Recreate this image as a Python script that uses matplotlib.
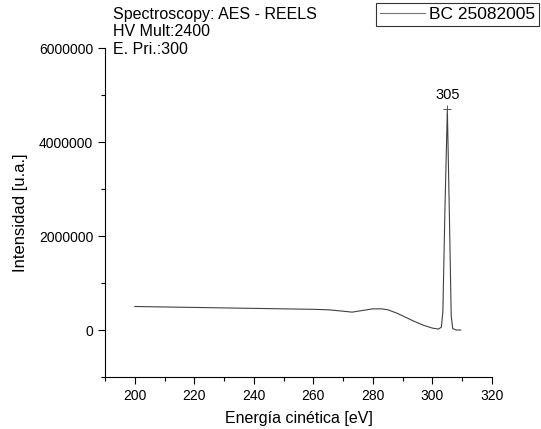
import matplotlib.pyplot as plt
from matplotlib.ticker import MultipleLocator, FuncFormatter

plt.rcParams['font.family'] = ['Liberation Sans', 'DejaVu Sans']

# spectrum
energy = [200, 210, 220, 230, 240, 250, 260, 265, 270, 273, 276, 280, 283, 285,
          288, 291, 294, 297, 300, 302, 303, 303.5, 304.2, 305, 305.7, 306.3,
          306.8, 308, 309.5]
intensity = [0.50e6, 0.49e6, 0.48e6, 0.47e6, 0.46e6, 0.45e6, 0.44e6, 0.43e6,
             0.40e6, 0.38e6, 0.41e6, 0.45e6, 0.45e6, 0.43e6, 0.36e6, 0.27e6,
             0.18e6, 0.10e6, 0.04e6, 0.02e6, 0.06e6, 0.4e6, 2.6e6, 4.7e6,
             2.4e6, 0.3e6, 0.03e6, 0.0, 0.0]
peak_x = 305
peak_y = 4.7e6
info_lines = ["Spectroscopy: AES - REELS", "HV Mult:2400", "E. Pri.:300"]
legend_label = "BC 25082005"

fig = plt.figure(figsize=(5.41, 4.29), dpi=100)
ax = fig.add_axes([105 / 541, 1 - 377 / 429, (492 - 105) / 541, (377 - 48) / 429])

line, = ax.plot(energy, intensity, color='#404040', linewidth=0.8)
ax.plot([peak_x], [peak_y], marker='+', color='#555555', markersize=6, mew=0.7)
ax.text(peak_x, peak_y + 0.15e6, str(peak_x), ha='center', va='bottom', fontsize=10.5)

ax.set_xlim(190, 320)
ax.set_ylim(-1e6, 6e6)
ax.xaxis.set_major_locator(MultipleLocator(20))
ax.xaxis.set_minor_locator(MultipleLocator(10))
ax.yaxis.set_major_locator(MultipleLocator(2e6))
ax.yaxis.set_minor_locator(MultipleLocator(1e6))
ax.yaxis.set_major_formatter(FuncFormatter(lambda v, p: f"{int(round(v))}"))
ax.xaxis.set_major_formatter(FuncFormatter(lambda v, p: "" if v < 200 else f"{int(v)}"))

ax.spines['top'].set_visible(False)
ax.spines['right'].set_visible(False)
ax.tick_params(which='both', direction='out', labelsize=10, width=0.8)
ax.tick_params(which='major', length=5)
ax.tick_params(which='minor', length=3)

ax.set_xlabel("Energía cinética [eV]", fontsize=11.5, labelpad=6)
ax.set_ylabel("Intensidad [u.a.]", fontsize=12, labelpad=8)

# acquisition info, top left
for i, t in enumerate(info_lines):
    fig.text(113 / 541, 1 - (14 + 18 * i) / 429, t, ha='left', va='center', fontsize=11.5)

leg = fig.legend([line], [legend_label], loc='upper right', bbox_to_anchor=(539 / 541, 1 - 3 / 429),
                 fontsize=12.5, frameon=True, fancybox=False, edgecolor='black',
                 handlelength=2.6, borderpad=0.22, handletextpad=0.25, borderaxespad=0)
leg.get_frame().set_linewidth(0.8)
leg.get_lines()[0].set_color('#777777')

fig.savefig("out.png", dpi=100)
